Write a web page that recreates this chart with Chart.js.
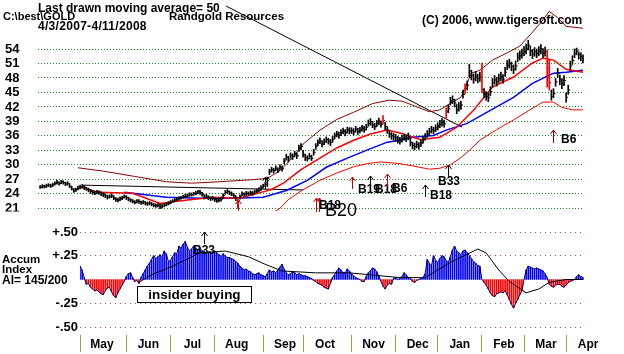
<!DOCTYPE html>
<html>
<head>
<meta charset="utf-8">
<script src="https://cdn.jsdelivr.net/npm/chart.js@4.4.0/dist/chart.umd.min.js"></script>
<style>
  html, body { margin: 0; padding: 0; background: #fff; }
  #wrap { position: relative; width: 624px; height: 354px; overflow: hidden; font-family: "Liberation Sans", Arial, sans-serif; }
  canvas { position: absolute; left: 0; top: 0; }
  .t { position: absolute; white-space: nowrap; font-weight: bold; color: #000; }
  #box { position: absolute; left: 137px; top: 286px; width: 113px; height: 15px; border: 1px solid #000; background: #fff;
         font-size: 13.5px; line-height: 15px; text-align: center; font-weight: bold; }
</style>
</head>
<body>
<div id="wrap">
  <canvas id="ai_chart" width="624" height="354"></canvas>
  <canvas id="price_chart" width="624" height="354"></canvas>
  <div class="t" style="left:38px;top:2px;font-size:12px;line-height:12px">Last drawn moving average= 50</div>
  <div class="t" style="left:3px;top:11px;font-size:11px;line-height:11px">C:\best\GOLD</div>
  <div class="t" style="left:169px;top:10.5px;font-size:11.5px;line-height:11px">Randgold Resources</div>
  <div class="t" style="left:38px;top:19.5px;font-size:12px;line-height:12px;letter-spacing:0.3px">4/3/2007-4/11/2008</div>
  <div class="t" style="left:422px;top:13.5px;font-size:12px;line-height:12px">(C) 2006, www.tigersoft.com</div>
  <div class="t" style="left:2px;top:253.5px;font-size:11.5px;line-height:10px">Accum<br>Index</div>
  <div class="t" style="left:2px;top:274px;font-size:12px;line-height:12px">AI= 145/200</div>
  <div id="box">insider buying</div>
</div>
<script>
// day 0 = 4/3/2007, one bar per trading day up to 4/11/2008 (day 258)
var highs = [
  25.7, 25.9, 25.8, 26.0, 26.1, 26.0, 26.2, 26.5, 26.8, 26.5, 26.8, 26.7, 26.4, 26.5, 26.1, 25.6, 25.1, 25.2, 25.6,
  25.8, 25.9, 25.7, 25.4, 25.2, 24.9, 24.7, 24.5, 24.7, 24.6, 24.4, 24.2, 24.0, 23.7, 23.8, 24.0, 23.6, 23.2, 23.1, 23.4, 23.5, 23.8,
  23.6, 23.3, 23.0, 22.8, 22.6, 22.8, 22.8, 22.5, 22.6, 22.4, 22.3, 22.4, 22.2, 22.0, 21.9, 22.0, 21.8, 21.8, 22.0, 22.2, 22.4,
  22.6, 22.8, 23.0, 23.2, 23.4, 23.5, 23.7, 23.9, 24.0, 24.2, 24.2, 24.3, 24.5, 24.7, 24.7, 24.3, 23.8, 23.9, 23.6, 23.4, 23.5,
  23.2, 23.0, 23.1, 23.3, 24.0, 24.7, 24.9, 24.6, 24.4, 24.1, 23.6, 23.0, 23.8, 24.4, 24.2, 24.5, 24.4, 24.6, 24.5, 24.8, 25.0, 25.3, 25.7,
  26.0, 26.4, 27.5, 29.1, 29.5, 29.3, 29.8, 29.4, 30.0, 29.8, 31.3, 32.2, 31.8, 32.5, 32.3, 32.8, 32.5, 34.1, 34.4,
  33.0, 32.2, 31.9, 32.4, 32.0, 33.2, 34.4, 35.2, 35.6, 35.0, 35.4, 35.8, 35.5, 35.3, 35.9, 36.6, 37.0, 36.8, 37.3, 37.6, 37.3, 37.8, 37.7,
  37.7, 37.5, 38.0, 37.6, 37.8, 38.2, 38.0, 38.4, 39.3, 39.6, 39.0, 38.6, 39.2, 39.7, 39.1, 40.2, 38.8, 37.9, 37.1, 36.7, 36.5,
  36.3, 35.9, 35.7, 36.1, 36.4, 36.2, 36.6, 35.5, 34.7, 34.5, 34.9, 34.6, 35.2, 35.9, 36.5, 37.1, 37.6, 38.0, 37.8, 38.3,
  38.7, 39.2, 39.6, 39.3, 41.8, 42.4, 44.0, 44.3, 43.6, 42.5, 42.9, 43.2, 45.5, 46.8, 47.4, 50.8, 49.6, 48.8, 49.3, 48.8, 49.2,
  51.1, 45.8, 45.2, 44.9, 46.2, 47.9, 48.5, 48.1, 48.8, 49.2, 48.7, 50.2, 51.6, 51.9, 51.3, 50.7, 51.5, 53.2, 53.6, 54.0,
  54.5, 55.0, 55.8, 54.6, 53.9, 54.3, 54.0, 54.5, 54.9, 54.1, 54.4, 53.8, 51.7, 45.5, 45.8, 47.9, 50.0, 48.6, 47.9, 48.5,
  44.9, 46.5, 51.5, 52.6, 54.0, 54.2, 53.4, 53.2, 52.8
];
var lows = [
  25.1, 25.2, 25.2, 25.3, 25.5, 25.3, 25.5, 25.8, 26.0, 25.8, 26.1, 26.0, 25.7, 25.8, 25.3, 24.8, 24.3, 24.5, 24.8,
  25.0, 25.2, 24.9, 24.7, 24.4, 24.1, 23.9, 23.8, 24.0, 23.9, 23.6, 23.4, 23.2, 22.9, 23.1, 23.2, 22.8, 22.4, 22.3, 22.6, 22.8, 23.1,
  22.8, 22.5, 22.3, 22.1, 21.9, 22.1, 22.0, 21.8, 21.9, 21.7, 21.6, 21.7, 21.5, 21.3, 21.2, 21.3, 20.9, 21.1, 21.3, 21.5, 21.7,
  21.9, 22.2, 22.4, 22.6, 22.7, 22.9, 23.1, 23.2, 23.3, 23.5, 23.5, 23.7, 23.8, 24.0, 23.9, 23.5, 22.9, 23.1, 22.8, 22.6, 22.7,
  22.4, 22.2, 22.3, 22.5, 23.1, 23.9, 24.1, 23.8, 23.6, 23.2, 22.6, 21.0, 22.9, 23.6, 23.4, 23.7, 23.6, 23.8, 23.7, 24.0, 24.2, 24.4, 24.7,
  25.2, 25.6, 25.5, 28.0, 28.5, 28.3, 28.8, 28.4, 29.0, 28.7, 30.2, 31.0, 30.6, 31.4, 31.1, 31.7, 31.3, 32.8, 33.1,
  31.6, 30.9, 30.8, 31.2, 30.9, 32.0, 33.2, 34.0, 34.4, 33.7, 34.2, 34.6, 34.3, 34.0, 34.7, 35.4, 35.8, 35.5, 36.1, 36.4, 36.0, 36.6, 36.4,
  36.5, 36.2, 36.8, 36.3, 36.6, 37.0, 36.7, 37.2, 38.0, 38.2, 37.7, 37.3, 37.9, 38.3, 37.8, 38.5, 37.3, 36.5, 35.7, 35.3, 35.1,
  34.9, 34.5, 34.3, 34.7, 35.1, 34.8, 35.2, 33.9, 33.3, 33.1, 33.5, 33.2, 33.8, 34.5, 35.1, 35.7, 36.2, 36.6, 36.4, 36.9,
  37.2, 37.7, 38.0, 37.8, 39.6, 40.8, 42.4, 42.7, 42.0, 40.6, 41.1, 41.5, 43.8, 44.8, 45.5, 48.2, 47.6, 46.9, 47.4, 47.0, 47.3,
  44.9, 43.9, 43.4, 43.1, 44.3, 46.1, 46.7, 46.3, 47.0, 47.4, 46.9, 48.3, 49.7, 50.1, 49.5, 48.9, 49.6, 51.4, 51.7, 52.1,
  52.6, 53.0, 53.8, 52.6, 52.0, 52.5, 52.2, 52.6, 53.0, 52.2, 52.5, 46.1, 45.5, 43.4, 43.9, 46.3, 48.1, 46.6, 45.8, 46.4,
  43.0, 44.6, 49.6, 50.8, 52.2, 52.8, 51.9, 51.6, 51.1
];
var closes = [
  25.4, 25.6, 25.5, 25.7, 25.8, 25.6, 25.9, 26.2, 26.4, 26.1, 26.5, 26.3, 26.0, 26.2, 25.5, 25.0, 24.6, 24.9, 25.2,
  25.4, 25.6, 25.3, 25.0, 24.8, 24.5, 24.3, 24.1, 24.4, 24.3, 24.0, 23.8, 23.6, 23.3, 23.5, 23.6, 23.1, 22.8, 22.7, 23.0, 23.2, 23.5,
  23.2, 22.9, 22.7, 22.4, 22.2, 22.5, 22.4, 22.1, 22.3, 22.0, 21.9, 22.1, 21.8, 21.6, 21.5, 21.7, 21.3, 21.5, 21.6, 21.9, 22.0,
  22.3, 22.5, 22.7, 22.9, 23.0, 23.2, 23.4, 23.5, 23.6, 23.9, 23.8, 24.0, 24.1, 24.4, 24.3, 23.9, 23.3, 23.5, 23.2, 23.0, 23.1,
  22.8, 22.6, 22.7, 22.9, 23.6, 24.3, 24.5, 24.2, 24.0, 23.7, 23.2, 22.5, 23.4, 24.0, 23.8, 24.1, 24.0, 24.2, 24.1, 24.4, 24.6, 24.8, 25.2,
  25.6, 26.0, 27.2, 28.6, 29.0, 28.8, 29.3, 28.9, 29.5, 29.2, 30.8, 31.6, 31.2, 32.0, 31.7, 32.3, 31.9, 33.5, 33.8,
  32.2, 31.5, 31.3, 31.8, 31.4, 32.6, 33.8, 34.6, 35.0, 34.3, 34.8, 35.2, 34.9, 34.6, 35.3, 36.0, 36.4, 36.1, 36.7, 37.0, 36.6, 37.2, 37.0,
  37.1, 36.8, 37.4, 36.9, 37.2, 37.6, 37.3, 37.8, 38.6, 38.9, 38.3, 37.9, 38.5, 39.0, 38.4, 39.2, 38.0, 37.2, 36.4, 36.0, 35.8,
  35.6, 35.2, 35.0, 35.4, 35.8, 35.5, 35.9, 34.6, 34.0, 33.8, 34.2, 33.9, 34.5, 35.2, 35.8, 36.4, 36.9, 37.3, 37.1, 37.6,
  37.9, 38.4, 38.8, 38.5, 41.0, 41.6, 43.2, 43.5, 42.8, 41.5, 42.0, 42.4, 44.6, 45.8, 46.5, 49.5, 48.6, 47.8, 48.4, 47.9, 48.2,
  45.6, 44.8, 44.2, 43.9, 45.2, 47.0, 47.6, 47.2, 47.9, 48.3, 47.8, 49.2, 50.6, 51.0, 50.4, 49.8, 50.5, 52.3, 52.6, 53.0,
  53.5, 54.0, 54.8, 53.6, 52.9, 53.4, 53.1, 53.6, 54.0, 53.2, 53.5, 50.0, 47.0, 44.2, 44.8, 47.2, 49.0, 47.6, 46.8, 47.5,
  44.0, 45.5, 50.5, 51.6, 53.0, 53.6, 52.8, 52.5, 52.0
];
var redBarDays = [94, 163, 193, 202, 210, 241, 242];

// moving averages and bands (day, value)
var ma21Days = [19, 28, 44, 57, 70, 82, 95, 105, 110, 116, 124, 133, 141, 149, 157, 165, 171, 181, 190, 198, 206, 215, 225, 234, 239, 244, 250, 258];
var ma21 = [25.4, 24.3, 24.1, 22.0, 22.7, 23.3, 23.1, 24.3, 24.9, 26.3, 29.0, 31.4, 33.5, 35.1, 36.4, 37.2, 36.6, 35.2, 35.7, 37.8, 41.3, 46.1, 48.2, 51.1, 52.1, 51.7, 49.8, 49.2];
var ma50Days = [40, 44, 60, 76, 92, 106, 117, 127, 136, 146, 155, 165, 171, 177, 187, 193, 203, 214, 225, 234, 244, 250, 258];
var ma50 = [24.3, 24.1, 23.3, 23.1, 23.1, 23.3, 24.7, 26.8, 29.5, 31.4, 33.0, 34.7, 35.1, 35.7, 36.1, 37.2, 38.6, 41.3, 44.0, 46.9, 49.0, 49.2, 49.6];
var upperDays = [18, 30, 45, 60, 72, 85, 100, 108, 114, 120, 125, 133, 141, 149, 158, 166, 172, 178, 185, 190, 196, 200, 205, 209, 215, 222, 228, 233, 238, 242, 246, 250, 258];
var upperBand = [29.4, 28.7, 27.6, 26.5, 26.2, 26.5, 26.9, 27.2, 28.8, 31.5, 34.3, 37.2, 39.4, 40.9, 42.7, 43.4, 43.2, 42.2, 41.0, 41.4, 43.0, 44.0, 49.0, 49.6, 51.7, 53.2, 54.6, 57.0, 59.5, 61.8, 60.5, 58.7, 58.3];
var lowerDays = [111, 114, 118, 124, 133, 141, 149, 156, 162, 170, 177, 185, 190, 195, 200, 204, 209, 217, 225, 232, 239, 244, 248, 253, 258];
var lowerBand = [20.2, 21.0, 22.8, 24.6, 26.8, 28.3, 29.6, 30.3, 30.6, 30.3, 29.8, 29.1, 29.3, 30.0, 31.5, 33.0, 35.1, 37.3, 39.3, 41.2, 43.0, 43.0, 41.9, 41.4, 41.4];
var trendDays = [20, 125];
var trendLine = [25.8, 24.8];
var pointerDays = [88.4, 200.6];
var pointerLine = [62.9, 37.8];
var priceTicks = [21, 24, 27, 30, 33, 36, 39, 42, 45, 48, 51, 54];

// signals on the price panel
var sigDays = [148, 157, 165, 183, 194, 131, 131, 244, 107, 94];
var sigPrices = [27.4, 27.7, 28.1, 25.8, 29.9, 23.1, 23.1, 37.2, 27.4, 22.7];
var sigLabels = ['B19', 'B18', 'B6', 'B18', 'B33', 'B18', 'B20', 'B6', '', ''];

// accumulation index, from day 19 (5/1/2007)
var aiStart = 19;
var aiValues = [
  0.14, 0.10, 0.02, -0.05, -0.04, -0.08, -0.10, -0.12, -0.11, -0.13, -0.15, -0.16, -0.12, -0.09, -0.08, -0.13, -0.17, -0.19, -0.14, -0.10, -0.06, -0.02,
  0.03, 0.06, 0.07, 0.02, -0.02, -0.01, -0.04, 0.02, 0.06, 0.10, 0.14, 0.17, 0.21, 0.25, 0.22, 0.24, 0.26, 0.24, 0.30, 0.27, 0.19,
  0.20, 0.24, 0.28, 0.27, 0.35, 0.33, 0.37, 0.40, 0.34, 0.30, 0.32, 0.35, 0.33, 0.31, 0.33, 0.30, 0.30, 0.27, 0.29, 0.28, 0.27,
  0.30, 0.28, 0.26, 0.24, 0.27, 0.25, 0.23, 0.23, 0.22, 0.21, 0.19, 0.17, 0.14, 0.12, 0.10, 0.11, 0.09, 0.08, 0.06, 0.05, 0.06, 0.07, 0.05,
  0.04, 0.03, 0.06, 0.10, 0.08, 0.09, 0.07, 0.10, 0.13, 0.16, 0.11, 0.07, 0.05, 0.06, 0.08, 0.07, 0.05, 0.06, 0.05,
  0.04, 0.04, 0.03, 0.02, 0.01, -0.01, -0.02, -0.04, -0.05, -0.06, -0.08, -0.09, -0.10, -0.04, 0.02, 0.05, 0.09, 0.12, 0.10, 0.07, 0.07, 0.11, 0.09,
  0.06, 0.04, 0.02, 0.01, 0.00, -0.02, -0.02, 0.03, 0.07, 0.09, 0.12, 0.11, 0.08, 0.04, -0.02, -0.07, -0.10, -0.06, -0.04, -0.05, 0.01,
  0.02, 0.00, 0.01, 0.03, 0.07, 0.05, 0.02, 0.01, -0.02, -0.03, -0.01, 0.00, 0.01, 0.02, 0.06, 0.21, 0.17, 0.14, 0.25, 0.20,
  0.18, 0.22, 0.25, 0.24, 0.20, 0.18, 0.24, 0.31, 0.35, 0.30, 0.28, 0.26, 0.30, 0.31, 0.28, 0.25, 0.22, 0.19, 0.17, 0.15, 0.14,
  0.00, -0.03, -0.06, -0.10, -0.14, -0.17, -0.18, -0.15, -0.14, -0.13, -0.14, -0.12, -0.16, -0.21, -0.26, -0.30, -0.25, -0.21, -0.16, -0.12,
  0.00, 0.10, 0.14, 0.13, 0.12, 0.11, 0.12, 0.11, 0.10, 0.09, 0.06, 0.02, -0.05, -0.07, -0.08, -0.06, -0.05, -0.05, -0.07, -0.08,
  -0.06, -0.03, -0.02, -0.01, 0.00, 0.03, 0.05, 0.03, 0.02
];
var aiMaDays = [47, 53, 63, 76, 88, 99, 107, 115, 131, 147, 171, 183, 195, 208, 212, 218, 223, 231, 237, 242, 250, 258];
var aiMa = [-0.03, 0.05, 0.14, 0.28, 0.30, 0.24, 0.16, 0.09, 0.07, 0.07, 0.02, 0.02, 0.18, 0.32, 0.28, 0.10, -0.02, -0.14, -0.10, -0.03, 0.00, 0.00];
var aiTicks = [0.5, 0.25, -0.25, -0.5];
var aiTickLabels = ['+.50', '+.25', '-.25', '-.50'];
var aiSigDays = [78];
var aiSigValues = [0.5];
var aiSigLabels = ['B33'];

var monthStarts = [19, 41, 62, 83, 106, 125, 148, 169, 189, 210, 230, 250];
var monthNames = ['May', 'Jun', 'Jul', 'Aug', 'Sep', 'Oct', 'Nov', 'Dec', 'Jan', 'Feb', 'Mar', 'Apr'];

// how each signal is drawn
var sigLook = [
  { color: '#d00000', len: 12, dx: 6, dy: 1 },
  { color: '#000', len: 12, dx: 5, dy: 2 },
  { color: '#d00000', len: 12, dx: 5, dy: 3 },
  { color: '#000', len: 12, dx: 5, dy: -1 },
  { color: '#000', len: 12, dx: -10, dy: 5 },
  { color: '#d00000', len: 14, dx: 3, dy: -6, double: true },
  { color: null, len: 14, dx: 9, dy: -1, font: '18px "Liberation Sans", Arial' },
  { color: '#900000', len: 13, dx: 8, dy: -3 },
  { color: '#000', len: 12 },
  { color: '#d00000', len: 11 }
];
var aiSigLook = [{ color: '#000', len: 12, dx: -11, dy: 7 }];

var FONT = '"Liberation Sans", Arial, sans-serif';

function pts(days, vals) {
  return days.map(function (d, k) { return { x: d, y: vals[k] }; });
}

function drawArrow(ctx, x, yTip, len, color) {
  ctx.strokeStyle = color;
  ctx.lineWidth = 1;
  ctx.beginPath();
  ctx.moveTo(x + 0.5, yTip);
  ctx.lineTo(x + 0.5, yTip + len);
  ctx.moveTo(x - 2.5, yTip + 4);
  ctx.lineTo(x + 0.5, yTip);
  ctx.lineTo(x + 3.5, yTip + 4);
  ctx.stroke();
}

function signalPlugin(days, values, labels, looks) {
  return {
    id: 'signals',
    afterDatasetsDraw: function (chart) {
      var ctx = chart.ctx, xs = chart.scales.x, ys = chart.scales.y;
      ctx.save();
      days.forEach(function (d, k) {
        var look = looks[k];
        var x = Math.round(xs.getPixelForValue(d));
        var y = Math.round(ys.getPixelForValue(values[k]));
        if (look.color) {
          drawArrow(ctx, x, y, look.len, look.color);
          if (look.double) drawArrow(ctx, x + 3, y, look.len, look.color);
        }
        if (labels[k]) {
          ctx.fillStyle = '#000';
          ctx.font = look.font || ('bold 12px ' + FONT);
          ctx.textAlign = 'left';
          ctx.textBaseline = 'middle';
          ctx.fillText(labels[k], x + look.dx, y + look.len + look.dy);
        }
      });
      ctx.restore();
    }
  };
}

// hides the lower half of the "21" label, as in the cut-off original
var cutPlugin = {
  id: 'cut',
  afterDraw: function (chart) {
    var ctx = chart.ctx;
    ctx.save();
    ctx.fillStyle = '#fff';
    ctx.fillRect(0, chart.chartArea.bottom + 0.5, 34, 12);
    ctx.restore();
  }
};

function line(data, color, width) {
  return { type: 'line', data: data, borderColor: color, borderWidth: width,
           pointRadius: 0, pointHoverRadius: 0, tension: 0, fill: false };
}

// keep the plot box where the original has it: no extra room for edge labels
function noEdgePadding(s) {
  s.paddingLeft = 0; s.paddingRight = 0; s.paddingTop = 0; s.paddingBottom = 0;
}

new Chart(document.getElementById('price_chart'), {
  type: 'bar',
  data: {
    datasets: [
      {
        type: 'bar',
        data: highs.map(function (h, i) { return { x: i, y: [lows[i], h] }; }),
        backgroundColor: function (c) { return redBarDays.indexOf(c.dataIndex) >= 0 ? '#ff0000' : '#000'; },
        barThickness: 1
      },
      {
        type: 'scatter',
        data: closes.map(function (c, i) { return { x: i, y: c }; }),
        pointStyle: 'dash', radius: 2, hoverRadius: 0, borderColor: '#000', borderWidth: 1
      },
      line(pts(ma21Days, ma21), '#ff0000', 1.5),
      line(pts(ma50Days, ma50), '#0000ff', 1.5),
      line(pts(upperDays, upperBand), '#8b0000', 1),
      line(pts(lowerDays, lowerBand), '#ff0000', 1),
      line(pts(trendDays, trendLine), '#000', 1),
      line(pts(pointerDays, pointerLine), '#000', 1)
    ]
  },
  options: {
    responsive: false,
    animation: false,
    layout: { padding: { left: 5, right: 40, top: 5, bottom: 143 } },
    plugins: { legend: { display: false }, tooltip: { enabled: false } },
    scales: {
      x: { type: 'linear', min: -1, max: 258.5, offset: false, display: false },
      y: {
        min: 20.44, max: 63.12,
        afterFit: function (s) { s.width = 33; noEdgePadding(s); },
        afterBuildTicks: function (s) { s.ticks = priceTicks.map(function (v) { return { value: v }; }); },
        border: { display: false, dash: [1, 2] },
        grid: { color: '#1f8f1f', drawTicks: false, lineWidth: 1 },
        ticks: { color: '#000', crossAlign: 'far', padding: 0, font: { family: FONT, size: 13, weight: 'bold' } }
      }
    }
  },
  plugins: [signalPlugin(sigDays, sigPrices, sigLabels, sigLook), cutPlugin]
});

var aiPoints = aiValues.map(function (v, k) { return { x: aiStart + k, y: v }; });

new Chart(document.getElementById('ai_chart'), {
  type: 'bar',
  data: {
    datasets: [
      line(pts(aiMaDays, aiMa), '#000', 1),
      line(aiPoints, '#000070', 1),
      {
        type: 'bar',
        data: aiPoints,
        backgroundColor: function (c) { return c.raw && c.raw.y < 0 ? '#ff0000' : '#0000ff'; },
        barThickness: 1
      }
    ]
  },
  options: {
    responsive: false,
    animation: false,
    layout: { padding: { left: 0, right: 40, top: 222.5, bottom: 0 } },
    plugins: { legend: { display: false }, tooltip: { enabled: false } },
    scales: {
      x: {
        type: 'linear', min: 19, max: 258.5, offset: false,
        afterFit: function (s) { s.height = 19; noEdgePadding(s); },
        afterBuildTicks: function (s) { s.ticks = monthStarts.map(function (v) { return { value: v }; }); },
        border: { display: false },
        grid: { offset: false, drawOnChartArea: false, drawTicks: true, tickLength: 17, color: '#a89c3c', tickColor: '#a89c3c' },
        ticks: {
          callback: function (v, i) { return monthNames[i]; },
          labelOffset: 22, padding: -15, maxRotation: 0, autoSkip: false,
          color: '#000', font: { family: FONT, size: 12, weight: 'bold' }
        }
      },
      y: {
        min: -0.584, max: 0.6,
        afterFit: function (s) { s.width = 80; noEdgePadding(s); },
        afterBuildTicks: function (s) { s.ticks = aiTicks.map(function (v) { return { value: v }; }); },
        border: { display: false, dash: [1, 4] },
        grid: { color: '#c040a0', drawTicks: false },
        ticks: {
          callback: function (v, i) { return aiTickLabels[i]; },
          padding: 2, color: '#000', font: { family: FONT, size: 13, weight: 'bold' }
        }
      }
    }
  },
  plugins: [signalPlugin(aiSigDays, aiSigValues, aiSigLabels, aiSigLook)]
});
</script>
</body>
</html>
